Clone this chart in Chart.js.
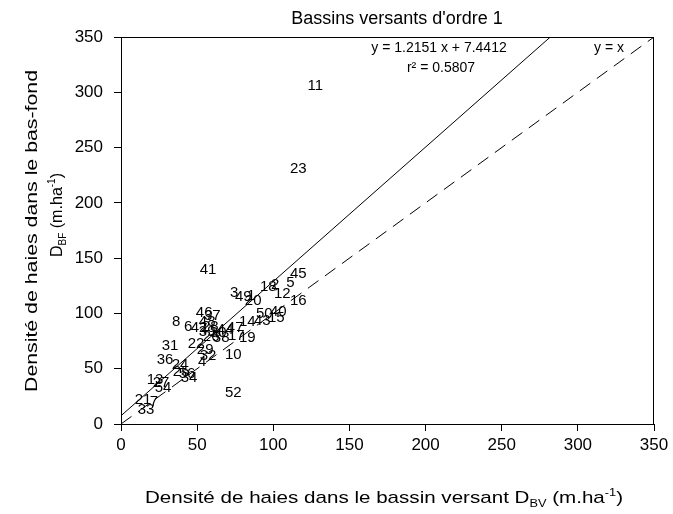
<!DOCTYPE html>
<html>
<head>
<meta charset="utf-8">
<script src="https://cdn.jsdelivr.net/npm/chart.js@4.4.1/dist/chart.umd.min.js"></script>
<style>
  html, body { margin: 0; padding: 0; background: #fff; }
  #wrap { width: 673px; height: 514px; }
</style>
</head>
<body>
<div id="wrap"><canvas id="c" width="673" height="514"></canvas></div>
<script>
// basin numbers and their hedge densities (m/ha)
const basinIds = ["11", "23", "52", "45", "5", "16", "12", "18", "2", "3", "49", "1", "20",
  "50", "40", "14", "43", "15", "47", "17", "19", "44", "10", "41", "46", "37", "48", "28",
  "6", "42", "8", "39", "30", "26", "38", "22", "29", "4", "32", "31", "36", "24", "25",
  "56", "34", "13", "27", "54", "21", "7", "33"];
const dBV = [127.6, 116.4, 73.7, 116.4, 111.2, 116.4, 105.9, 96.7, 101.3, 74.3, 80.3, 85.5, 86.8,
  94.1, 103.3, 82.9, 92.8, 102.0, 75.0, 75.7, 82.9, 68.4, 73.7, 57.2, 54.6, 59.9, 56.6, 58.6,
  44.1, 51.3, 36.2, 56.6, 63.8, 59.2, 65.8, 49.3, 55.3, 53.3, 57.2, 32.2, 28.9, 38.8, 39.5,
  43.4, 44.7, 22.4, 26.3, 27.6, 14.5, 21.7, 16.4];
const dBF = [305.6, 230.6, 28.0, 135.6, 127.5, 111.2, 117.5, 123.9, 125.7, 118.4, 114.8, 115.7, 111.2,
  99.5, 101.3, 92.2, 93.1, 95.8, 86.8, 79.6, 77.8, 85.0, 62.4, 139.2, 100.4, 97.6, 92.2, 87.7,
  87.7, 86.8, 92.2, 83.2, 82.3, 78.7, 77.8, 72.3, 66.9, 56.1, 61.5, 70.5, 57.9, 53.3, 47.0,
  45.2, 41.6, 39.8, 37.1, 32.5, 21.7, 19.9, 12.7];

const slope = 1.2151;
const intercept = 7.4412;
const r2 = 0.5807;
const axisMax = 350;
const tickStep = 50;

const FONT = "'Liberation Sans', Arial, sans-serif";

function $(id) {
  return document.getElementById(id);
}

const points = dBV.map((x, i) => ({ x, y: dBF[i] }));
const fitEndX = (axisMax - intercept) / slope;

// width of a run of text pieces at a given size
function richWidth(ctx, parts, size) {
  return parts.reduce((w, p) => {
    ctx.font = `${p.small ? size * 0.62 : size}px ${FONT}`;
    return w + ctx.measureText(p.t).width;
  }, 0);
}

// draw text pieces centred on x, stretched sideways to the original's width
function drawRich(ctx, parts, x, y, size, width) {
  const natural = richWidth(ctx, parts, size);
  const sx = width ? width / natural : 1;
  ctx.save();
  ctx.translate(x, y);
  ctx.scale(sx, 1);
  let cx = -natural / 2;
  ctx.textAlign = "left";
  parts.forEach((p) => {
    ctx.font = `${p.small ? size * 0.62 : size}px ${FONT}`;
    ctx.fillText(p.t, cx, (p.dy || 0) * size);
    cx += ctx.measureText(p.t).width;
  });
  ctx.restore();
}

const xTitle = [
  { t: "Densité de haies dans le bassin versant D" },
  { t: "BV", small: true, dy: 0.25 },
  { t: " (m.ha" },
  { t: "-1", small: true, dy: -0.42 },
  { t: ")" },
];
const yTitle1 = [{ t: "Densité de haies dans le bas-fond" }];
const yTitle2 = [
  { t: "D" },
  { t: "BF", small: true, dy: 0.25 },
  { t: " (m.ha" },
  { t: "-1", small: true, dy: -0.42 },
  { t: ")" },
];
const title = [{ t: "Bassins versants d'ordre 1" }];

const decorations = {
  id: "decorations",
  afterDatasetsDraw(chart) {
    const { ctx, chartArea: a } = chart;
    ctx.save();
    ctx.strokeStyle = "#000";
    ctx.lineWidth = 1;
    ctx.strokeRect(a.left + 0.5, a.top + 0.5, a.right - a.left - 1, a.bottom - a.top);

    // point labels, centred on each point
    const meta = chart.getDatasetMeta(0);
    ctx.fillStyle = "#000";
    ctx.font = `15px ${FONT}`;
    ctx.textAlign = "center";
    ctx.textBaseline = "middle";
    meta.data.forEach((el, i) => {
      ctx.fillText(basinIds[i], el.x, el.y);
    });

    // equation
    ctx.font = `14px ${FONT}`;
    ctx.fillText(`y = ${slope} x + ${intercept}`, 439, 48);
    ctx.fillText(`r² = ${r2}`, 441, 68);
    ctx.fillText("y = x", 609, 48);

    ctx.textBaseline = "alphabetic";
    drawRich(ctx, title, 397, 24, 18);
    drawRich(ctx, xTitle, 384, 503, 17, 478);

    ctx.save();
    ctx.translate(37, 231);
    ctx.rotate(-Math.PI / 2);
    drawRich(ctx, yTitle1, 0, 0, 17, 322);
    ctx.restore();
    ctx.save();
    ctx.translate(62, 215);
    ctx.rotate(-Math.PI / 2);
    drawRich(ctx, yTitle2, 0, 0, 17, 84);
    ctx.restore();
    ctx.restore();
  },
};

const axisCommon = {
  type: "linear",
  min: 0,
  max: axisMax,
  border: { color: "#000", width: 1 },
  grid: { drawOnChartArea: false, drawTicks: true, tickLength: 7, tickColor: "#000" },
  ticks: { stepSize: tickStep, color: "#000", font: { family: FONT, size: 17 } },
};

new Chart($("c"), {
  type: "scatter",
  data: {
    datasets: [
      { label: "Bassins", data: points, pointRadius: 0, pointHoverRadius: 0, showLine: false },
      {
        type: "line",
        label: "Régression",
        data: [{ x: 0, y: intercept }, { x: fitEndX, y: axisMax }],
        borderColor: "#000",
        borderWidth: 1,
        pointRadius: 0,
        fill: false,
      },
      {
        type: "line",
        label: "y = x",
        data: [{ x: 0, y: 0 }, { x: axisMax, y: axisMax }],
        borderColor: "#000",
        borderWidth: 1,
        borderDash: [13, 8],
        pointRadius: 0,
        fill: false,
      },
    ],
  },
  options: {
    responsive: false,
    animation: false,
    devicePixelRatio: 1,
    layout: { padding: { left: 0, top: 37, right: 19, bottom: 0 } },
    plugins: { legend: { display: false }, tooltip: { enabled: false } },
    scales: {
      x: {
        ...axisCommon,
        ticks: { ...axisCommon.ticks, padding: 4, maxRotation: 0 },
        afterFit: (s) => { s.height = 90; },
      },
      y: {
        ...axisCommon,
        ticks: { ...axisCommon.ticks, padding: 11 },
        afterFit: (s) => { s.width = 121; },
      },
    },
  },
  plugins: [decorations],
});
</script>
</body>
</html>
